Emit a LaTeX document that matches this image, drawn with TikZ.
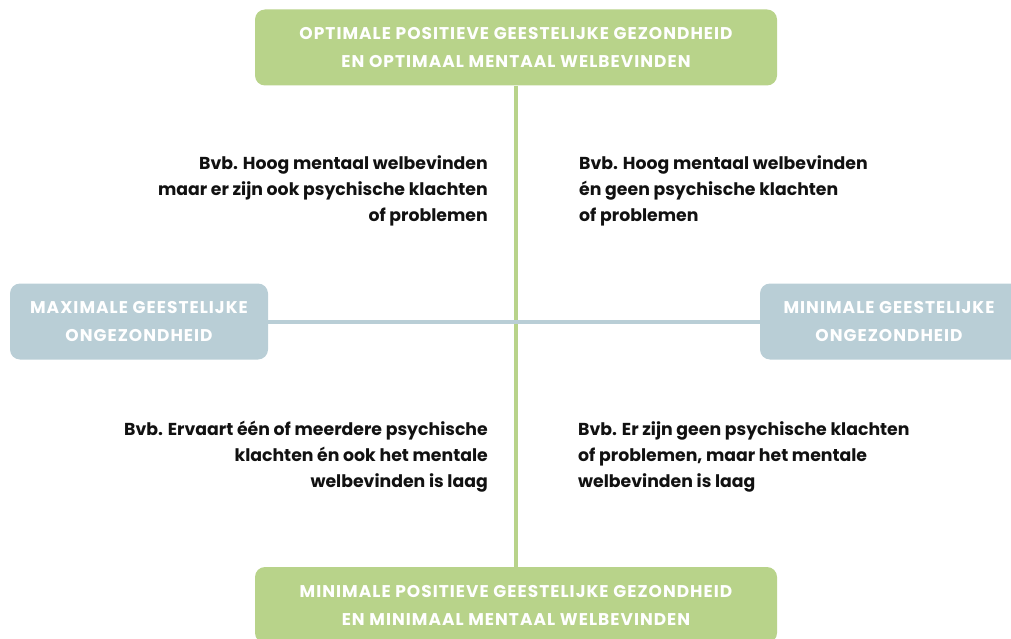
\documentclass[tikz,border=0pt]{standalone}
\usepackage{fontspec}
\setmainfont{Poppins}
\usetikzlibrary{positioning}
\definecolor{mhgreen}{HTML}{B8D38A}
\definecolor{mhblue}{HTML}{B9CED6}
\definecolor{mhtext}{HTML}{111111}
\tikzset{
  axisbox/.style={rounded corners=10pt,inner sep=0pt,align=center,text=white,
                  font=\bfseries\fontsize{17}{28}\selectfont\addfontfeature{LetterSpace=6}},
  posbox/.style={axisbox,fill=mhgreen,minimum width=522,minimum height=76},
  negbox/.style={axisbox,fill=mhblue,minimum width=258,minimum height=76},
  example/.style={font=\bfseries\fontsize{17.3}{26}\selectfont,text=mhtext,inner sep=0pt},
  greenaxis/.style={draw=mhgreen,line width=4pt},
  blueaxis/.style={draw=mhblue,line width=4pt},
}
\begin{document}
\begin{tikzpicture}[x=1pt,y=-1pt]
  \useasboundingbox (0,0) rectangle (1011,639);

  % ===== axis ends =====
  \node[posbox] (top) at (516,47.5)
    {OPTIMALE POSITIEVE GEESTELIJKE GEZONDHEID\\EN OPTIMAAL MENTAAL WELBEVINDEN};
  \node[posbox] (bottom) at (516,605)
    {MINIMALE POSITIEVE GEESTELIJKE GEZONDHEID\\EN MINIMAAL MENTAAL WELBEVINDEN};
  \node[negbox] (maxill) at (139,321.5)
    {MAXIMALE GEESTELIJKE\\ONGEZONDHEID};
  \node[negbox,minimum width=280] (minill) at (900,321.5)
    {\hspace*{-22pt}MINIMALE GEESTELIJKE\\\hspace*{-22pt}ONGEZONDHEID};

  % ===== axes (horizontal one on top) =====
  \draw[greenaxis] (top.south) -- (bottom.north);
  \draw[blueaxis] (maxill.east) -- (minill.west);

  % ===== quadrant examples =====
  \node[example,align=right,anchor=north east] (q1) at (488,155)
    {Bvb. Hoog mentaal welbevinden\\maar er zijn ook psychische klachten\\of problemen};
  \node[example,align=left,anchor=north west] (q2) at (579,155)
    {Bvb. Hoog mentaal welbevinden\\én geen psychische klachten\\of problemen};
  \node[example,align=right,anchor=north east] (q3) at (488,421)
    {Bvb. Ervaart één of meerdere psychische\\klachten én ook het mentale\\welbevinden is laag};
  \node[example,align=left,anchor=north west] (q4) at (578,421)
    {Bvb. Er zijn geen psychische klachten\\of problemen, maar het mentale\\welbevinden is laag};
\end{tikzpicture}
\end{document}
